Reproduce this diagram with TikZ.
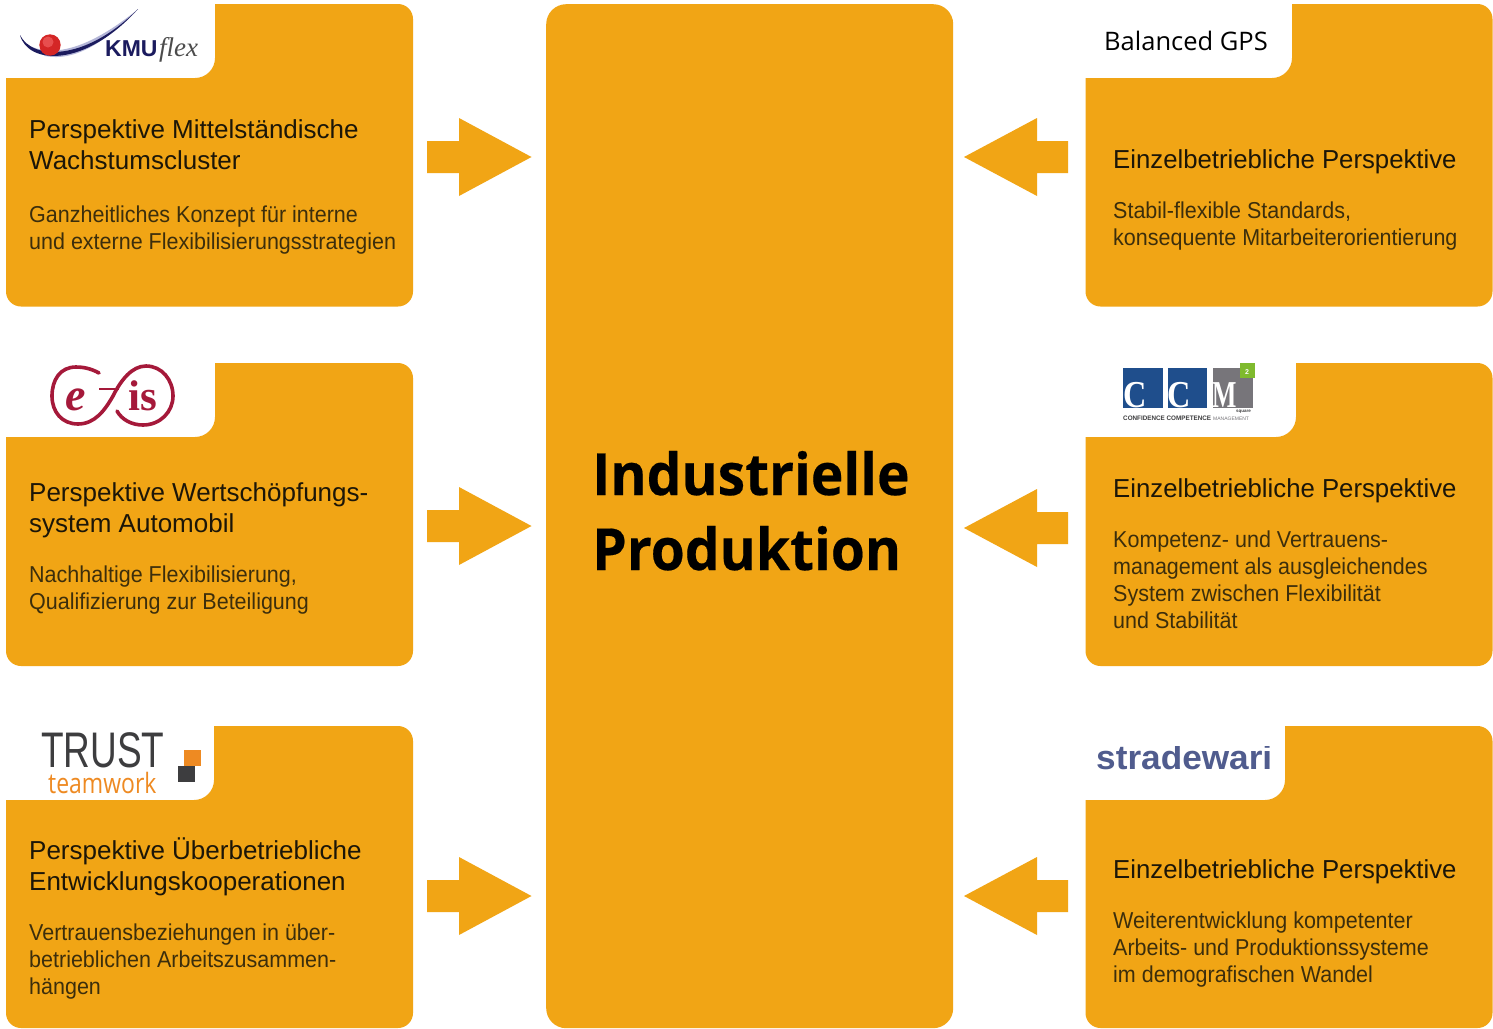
\documentclass[tikz,border=0pt]{standalone}
\usepackage{fontspec}
\setmainfont{Liberation Sans}
\newfontfamily\titlefont{Open Sans}
\newfontfamily\serifface{Liberation Serif}
\newfontfamily\subface[FakeStretch=0.935]{Liberation Sans}
\definecolor{panelorange}{HTML}{F1A515}
\definecolor{headink}{HTML}{1C1608}
\definecolor{subink}{HTML}{3C2E0C}
\definecolor{wine}{HTML}{A5193A}
\definecolor{navyink}{HTML}{1B1B5E}
\definecolor{lav}{HTML}{B4B6D8}
\definecolor{ccmblue}{HTML}{1F4E8C}
\definecolor{ccmgray}{HTML}{77757A}
\definecolor{ccmgreen}{HTML}{7FBA2E}
\definecolor{trustdark}{HTML}{3D3D3F}
\definecolor{trustorange}{HTML}{EE8A22}
\definecolor{stradeink}{HTML}{505C8E}
\tikzset{
  x=1pt,y=-1pt,
  panelshape/.style={fill=panelorange,draw=none},
  heading/.style={anchor=north west,inner sep=0pt,align=left,text=headink,font=\fontsize{26}{31}\selectfont},
  subtext/.style={anchor=north west,inner sep=0pt,align=left,text=subink,font=\subface\fontsize{23}{27}\selectfont},
  titletext/.style={anchor=base west,inner sep=0pt,font=\titlefont\bfseries\addfontfeatures{FakeStretch=0.95,FakeBold=0.35}\fontsize{58}{74}\selectfont},
  logotext/.style={inner sep=0pt,anchor=base west},
}
\newcommand{\panelL}[5]{% x left, y top, y notch bottom, notch x, height
  \fill[panelorange] (#4,#2) -- (#1+392,#2) arc[start angle=-90,end angle=0,radius=15]
   -- (#1+407,#2+#5-15) arc[start angle=0,end angle=90,radius=15]
   -- (#1+15,#2+#5) arc[start angle=90,end angle=180,radius=15]
   -- (#1,#3) -- (#4-20,#3) arc[start angle=90,end angle=0,radius=20] -- cycle;}
\begin{document}
\begin{tikzpicture}
\useasboundingbox (0,0) rectangle (1493,1028);
\fill[white] (0,0) rectangle (1493,1028);
% centre
\node[panelshape,rounded corners=20pt,minimum width=407pt,minimum height=1024pt,inner sep=0pt,anchor=north west] (centre) at (546,4) {};
\node[titletext] (title1) at (592,495) {Industrielle};
\node[titletext] (title2) at (592,570) {Produktion};
% panels
\panelL{6}{4}{78}{215}{302.5}
\panelL{6}{363}{437}{215}{303}
\panelL{6}{726}{800}{214}{302}
\panelL{1085.5}{4}{78}{1292}{302.5}
\panelL{1085.5}{363}{437}{1296}{303}
\panelL{1085.5}{726}{800}{1285}{302}
% arrows
\foreach \cy in {157,526,896}{
 \fill[panelorange] (427,\cy-16) -- (459,\cy-16) -- (459,\cy-39) -- (531.5,\cy) -- (459,\cy+39) -- (459,\cy+16) -- (427,\cy+16) -- cycle;}
\foreach \cy in {157,528,896}{
 \fill[panelorange] (1068,\cy-16) -- (1037,\cy-16) -- (1037,\cy-39) -- (964,\cy) -- (1037,\cy+39) -- (1037,\cy+16) -- (1068,\cy+16) -- cycle;}
% left texts
\node[heading] (h1) at (29,119) {Perspektive Mittelständische\\Wachstumscluster};
\node[subtext] (s1) at (29,206) {Ganzheitliches Konzept für interne\\und externe Flexibilisierungsstrategien};
\node[heading] (h2) at (29,482) {Perspektive Wertschöpfungs-\\system Automobil};
\node[subtext] (s2) at (29,566) {Nachhaltige Flexibilisierung,\\Qualifizierung zur Beteiligung};
\node[heading] (h3) at (29,838) {Perspektive Überbetriebliche\\Entwicklungskooperationen};
\node[subtext] (s3) at (29,924) {Vertrauensbeziehungen in über-\\betrieblichen Arbeitszusammen-\\hängen};
% right texts
\node[heading] (h4) at (1113,149) {\scalebox{.99}[1]{Einzelbetriebliche Perspektive}};
\node[subtext] (s4) at (1113,202) {Stabil-flexible Standards,\\konsequente Mitarbeiterorientierung};
\node[heading] (h5) at (1113,478) {\scalebox{.99}[1]{Einzelbetriebliche Perspektive}};
\node[subtext] (s5) at (1113,531) {Kompetenz- und Vertrauens-\\management als ausgleichendes\\System zwischen Flexibilität\\und Stabilität};
\node[heading] (h6) at (1113,859) {\scalebox{.99}[1]{Einzelbetriebliche Perspektive}};
\node[subtext] (s6) at (1113,912) {Weiterentwicklung kompetenter\\Arbeits- und Produktionssysteme\\im demografischen Wandel};
% KMU flex logo
\fill[lav] (30,46) .. controls (60,60) and (100,40) .. (137,10) .. controls (105,42) and (75,62) .. (45,56) -- cycle;
\fill[navyink] (20,35) .. controls (28,65) and (85,68) .. (138,9) .. controls (85,62) and (32,60) .. (20,35) -- cycle;
\fill[red!80!black!85] (50,45) circle[radius=10.7];
\fill[red!50!white,opacity=.45] (48,42) circle[radius=5.5];
\node[logotext,text=navyink,font=\bfseries\fontsize{23}{23}\selectfont] (kmu) at (105,56) {KMU};
\node[logotext,text=black!70,font=\serifface\itshape\fontsize{27}{27}\selectfont] (flex) at (159,56) {flex};
% efis logo
\draw[wine,line width=3.6pt,line cap=round] (99,373) .. controls (90,368) and (82,367) .. (76,367) .. controls (60,367) and (52,380) .. (52,396) .. controls (52,412) and (62,424) .. (78,424) .. controls (95,424) and (105,410) .. (113,396) .. controls (121,380) and (132,366) .. (146,366) .. controls (162,366) and (173,380) .. (173,396) .. controls (173,412) and (160,425) .. (143,425) .. controls (132,425) and (122,420) .. (117,411);
\draw[wine,line width=2.6pt] (99,389) -- (119,389);
\node[logotext,text=wine,font=\serifface\bfseries\itshape\fontsize{46}{46}\selectfont] (efise) at (65,410) {e};
\node[logotext,text=wine,font=\serifface\bfseries\fontsize{43}{43}\selectfont] (efisis) at (128,410) {is};
% TRUST logo
\node[logotext,text=trustdark,font=\fontsize{50}{50}\selectfont] (trust) at (41,767) {\scalebox{.74}[1]{TRUST}};
\node[logotext,text=trustorange,font=\titlefont\fontsize{28}{28}\selectfont] (team) at (48,793) {\scalebox{.82}[1]{teamwork}};
\fill[trustorange] (184,750) rectangle (201,766);
\fill[trustdark] (178,766) rectangle (195,782);
% Balanced GPS
\node[logotext,font=\titlefont\fontsize{25.5}{26}\selectfont] (gps) at (1104,50) {Balanced GPS};
% CCM logo
\fill[ccmblue] (1123,368) rectangle (1163,408);
\fill[ccmblue] (1168,368) rectangle (1207,408);
\fill[ccmgray] (1213,368) rectangle (1253,408);
\fill[ccmgreen] (1240,363) rectangle (1255,378);
\node[logotext,text=white,font=\bfseries\fontsize{7}{7}\selectfont] (two) at (1245,374) {2};
\node[logotext,text=white,font=\serifface\bfseries\fontsize{38}{38}\selectfont] (c1) at (1123,407) {\scalebox{.85}[1]{C}};
\node[logotext,text=white,font=\serifface\bfseries\fontsize{38}{38}\selectfont] (c2) at (1167,407) {\scalebox{.85}[1]{C}};
\node[logotext,text=white,font=\serifface\bfseries\fontsize{38}{38}\selectfont] (m1) at (1212,407) {\scalebox{.68}[1]{M}};
\node[logotext,text=trustdark,font=\bfseries\fontsize{4.5}{5}\selectfont] (sq) at (1236,412) {square};
\node[logotext,text=trustdark,font=\bfseries\fontsize{6.5}{6.5}\selectfont] (cc) at (1123,420) {\scalebox{.97}[1]{CONFIDENCE COMPETENCE}};
\node[logotext,text=ccmgray,font=\fontsize{5}{5}\selectfont] (mg) at (1213,420) {MANAGEMENT};
% stradewari
\begin{scope}
\clip (1090,746) rectangle (1280,770);
\node[logotext,text=stradeink,font=\bfseries\fontsize{34}{34}\selectfont] (str) at (1096,769) {\scalebox{1.035}[1]{stradewari}};
\end{scope}
\end{tikzpicture}
\end{document}
